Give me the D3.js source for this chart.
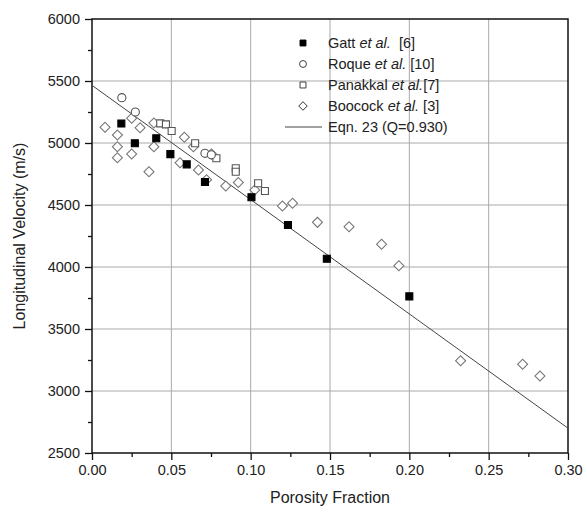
<!DOCTYPE html>
<html>
<head>
<meta charset="utf-8">
<script src="https://cdn.jsdelivr.net/npm/d3@7"></script>
<style>
  body { margin: 0; background: #fff; }
  text { font-family: Arial, "Liberation Sans", sans-serif; fill: #222; }
</style>
</head>
<body>
<div id="chart"></div>
<script>
const width = 587,
height = 512,
margin = { top: 19, bottom: 59, left: 92, right: 19 }

// porosity fraction, longitudinal velocity (m/s)
const gatt = [[0.0185,5157],[0.027,4998],[0.0405,5038],[0.0494,4910],[0.0597,4828],[0.0712,4686],[0.1005,4563],[0.1235,4339],[0.148,4066],[0.2,3763]]
const roque = [[0.0188,5365],[0.0273,5250],[0.0712,4917],[0.0752,4905]]
const panakkal = [[0.043,5158],[0.0466,5150],[0.0502,5097],[0.065,4998],[0.0784,4877],[0.0906,4796],[0.0906,4768],[0.1047,4675],[0.109,4613]]
const boocock = [[0.0082,5127],[0.016,5064],[0.016,4970],[0.016,4881],[0.025,5199],[0.025,4911],[0.0303,5123],[0.0359,4768],[0.039,5161],[0.039,4970],[0.0555,4841],[0.0582,5046],[0.0639,4970],[0.0671,4782],[0.0722,4704],[0.0753,4911],[0.0843,4653],[0.0922,4682],[0.1026,4621],[0.12,4492],[0.1264,4514],[0.1421,4360],[0.162,4325],[0.1825,4183],[0.1934,4010],[0.2323,3244],[0.2714,3215],[0.2823,3121]]
const eqnX = [0, 0.30]
const eqnY = [5465, 2700]

const xTicks = [0, 0.05, 0.10, 0.15, 0.20, 0.25, 0.30]
const yTicks = [2500, 3000, 3500, 4000, 4500, 5000, 5500, 6000]

const svg = d3.select("#chart")
    .append("svg")
    .attr("width", width)
    .attr("height", height)

const x = d3.scaleLinear()
    .domain([0, 0.30])
    .range([margin.left, width - margin.right])

const y = d3.scaleLinear()
    .domain([2500, 6000])
    .range([height - margin.bottom, margin.top])

//grid lines
svg.append("g")
    .selectAll("line")
    .data(xTicks.slice(1, -1))
    .join("line")
    .attr("x1", d => x(d)).attr("x2", d => x(d))
    .attr("y1", y(2500)).attr("y2", y(6000))
    .attr("stroke", "#aaa")
    .attr("stroke-width", 1)

svg.append("g")
    .selectAll("line")
    .data(yTicks.slice(1, -1))
    .join("line")
    .attr("x1", x(0)).attr("x2", x(0.30))
    .attr("y1", d => y(d)).attr("y2", d => y(d))
    .attr("stroke", "#aaa")
    .attr("stroke-width", 1)

//axes
const xAxis = svg.append("g")
    .attr("transform", `translate(0,${y(2500)})`)
    .call(d3.axisBottom(x).tickValues(xTicks).tickFormat(d3.format(".2f")).tickSizeInner(7).tickSizeOuter(0).tickPadding(5))
const xMinor = svg.append("g")
    .attr("transform", `translate(0,${y(2500)})`)
    .call(d3.axisBottom(x).tickValues(d3.range(0.025, 0.3, 0.05)).tickFormat("").tickSize(4).tickSizeOuter(0))

const yAxis = svg.append("g")
    .attr("transform", `translate(${x(0)},0)`)
    .call(d3.axisLeft(y).tickValues(yTicks).tickFormat(d3.format("d")).tickSizeInner(7).tickSizeOuter(0).tickPadding(5))
const yMinor = svg.append("g")
    .attr("transform", `translate(${x(0)},0)`)
    .call(d3.axisLeft(y).tickValues(d3.range(2750, 6000, 500)).tickFormat("").tickSize(4).tickSizeOuter(0))

;[xAxis, xMinor, yAxis, yMinor].forEach(a => {
    a.select(".domain").remove()
    a.selectAll("line").attr("stroke", "#111").attr("stroke-width", 1.3)
    a.selectAll("text").attr("font-size", 14.5).attr("fill", "#222")
})

//frame
svg.append("rect")
    .attr("x", x(0)).attr("y", y(6000))
    .attr("width", x(0.30) - x(0))
    .attr("height", y(2500) - y(6000))
    .attr("fill", "none")
    .attr("stroke", "#111")
    .attr("stroke-width", 1.5)

//fit line
const line = d3.line().x(d => x(d[0])).y(d => y(d[1]))
svg.append("path")
    .attr("d", line(eqnX.map((d, i) => [d, eqnY[i]])))
    .attr("fill", "none")
    .attr("stroke", "#444")
    .attr("stroke-width", 1)

const sq = d3.symbol().type(d3.symbolSquare).size(49)()
const dia = d3.symbol().type(d3.symbolSquare).size(50)()
const circ = d3.symbol().type(d3.symbolCircle).size(52)()

function drawSeries(data, path, fill, stroke, rot) {
    svg.append("g")
        .selectAll("path")
        .data(data)
        .join("path")
        .attr("d", path)
        .attr("transform", d => `translate(${x(d[0])},${y(d[1])}) rotate(${rot})`)
        .attr("fill", fill)
        .attr("stroke", stroke)
        .attr("stroke-width", 1.1)
}

drawSeries(boocock, dia, "#fff", "#777", 45)
drawSeries(panakkal, sq, "#fff", "#555", 0)
drawSeries(roque, circ, "#fff", "#555", 0)
drawSeries(gatt, sq, "#000", "#000", 0)

//legend
const legendItems = [
    { name: "Gatt ", ital: "et al.", ref: "  [6]", path: sq, fill: "#000", stroke: "#000", rot: 0 },
    { name: "Roque ", ital: "et al.", ref: " [10]", path: circ, fill: "#fff", stroke: "#333", rot: 0 },
    { name: "Panakkal ", ital: "et al.", ref: "[7]", path: sq, fill: "#fff", stroke: "#333", rot: 0 },
    { name: "Boocock ", ital: "et al.", ref: " [3]", path: dia, fill: "#fff", stroke: "#333", rot: 45 },
    { name: "Eqn. 23 (Q=0.930)", ital: "", ref: "", path: null }
]

const legend = svg.append("g")
legendItems.forEach(function (d, i) {
    const ly = 43 + i * 21
    const g = legend.append("g")
    if (d.path) {
        g.append("path")
            .attr("d", d.path)
            .attr("transform", `translate(303,${ly}) rotate(${d.rot}) scale(0.85)`)
            .attr("fill", d.fill)
            .attr("stroke", d.stroke)
            .attr("stroke-width", 1.1)
    } else {
        g.append("line")
            .attr("x1", 285).attr("x2", 322)
            .attr("y1", ly).attr("y2", ly)
            .attr("stroke", "#444")
    }
    const t = g.append("text")
        .attr("x", 328)
        .attr("y", ly + 5)
        .attr("font-size", 14.5)
        .attr("xml:space", "preserve")
    t.append("tspan").text(d.name)
    if (d.ital) t.append("tspan").attr("font-style", "italic").text(d.ital)
    if (d.ref) t.append("tspan").text(d.ref)
})

//axis titles
svg.append("text")
    .attr("x", (x(0) + x(0.30)) / 2)
    .attr("y", 503)
    .attr("text-anchor", "middle")
    .attr("font-size", 16)
    .text("Porosity Fraction")

svg.append("text")
    .attr("transform", `translate(25,${(y(2500) + y(6000)) / 2}) rotate(-90)`)
    .attr("text-anchor", "middle")
    .attr("font-size", 16)
    .text("Longitudinal Velocity (m/s)")
</script>
</body>
</html>
